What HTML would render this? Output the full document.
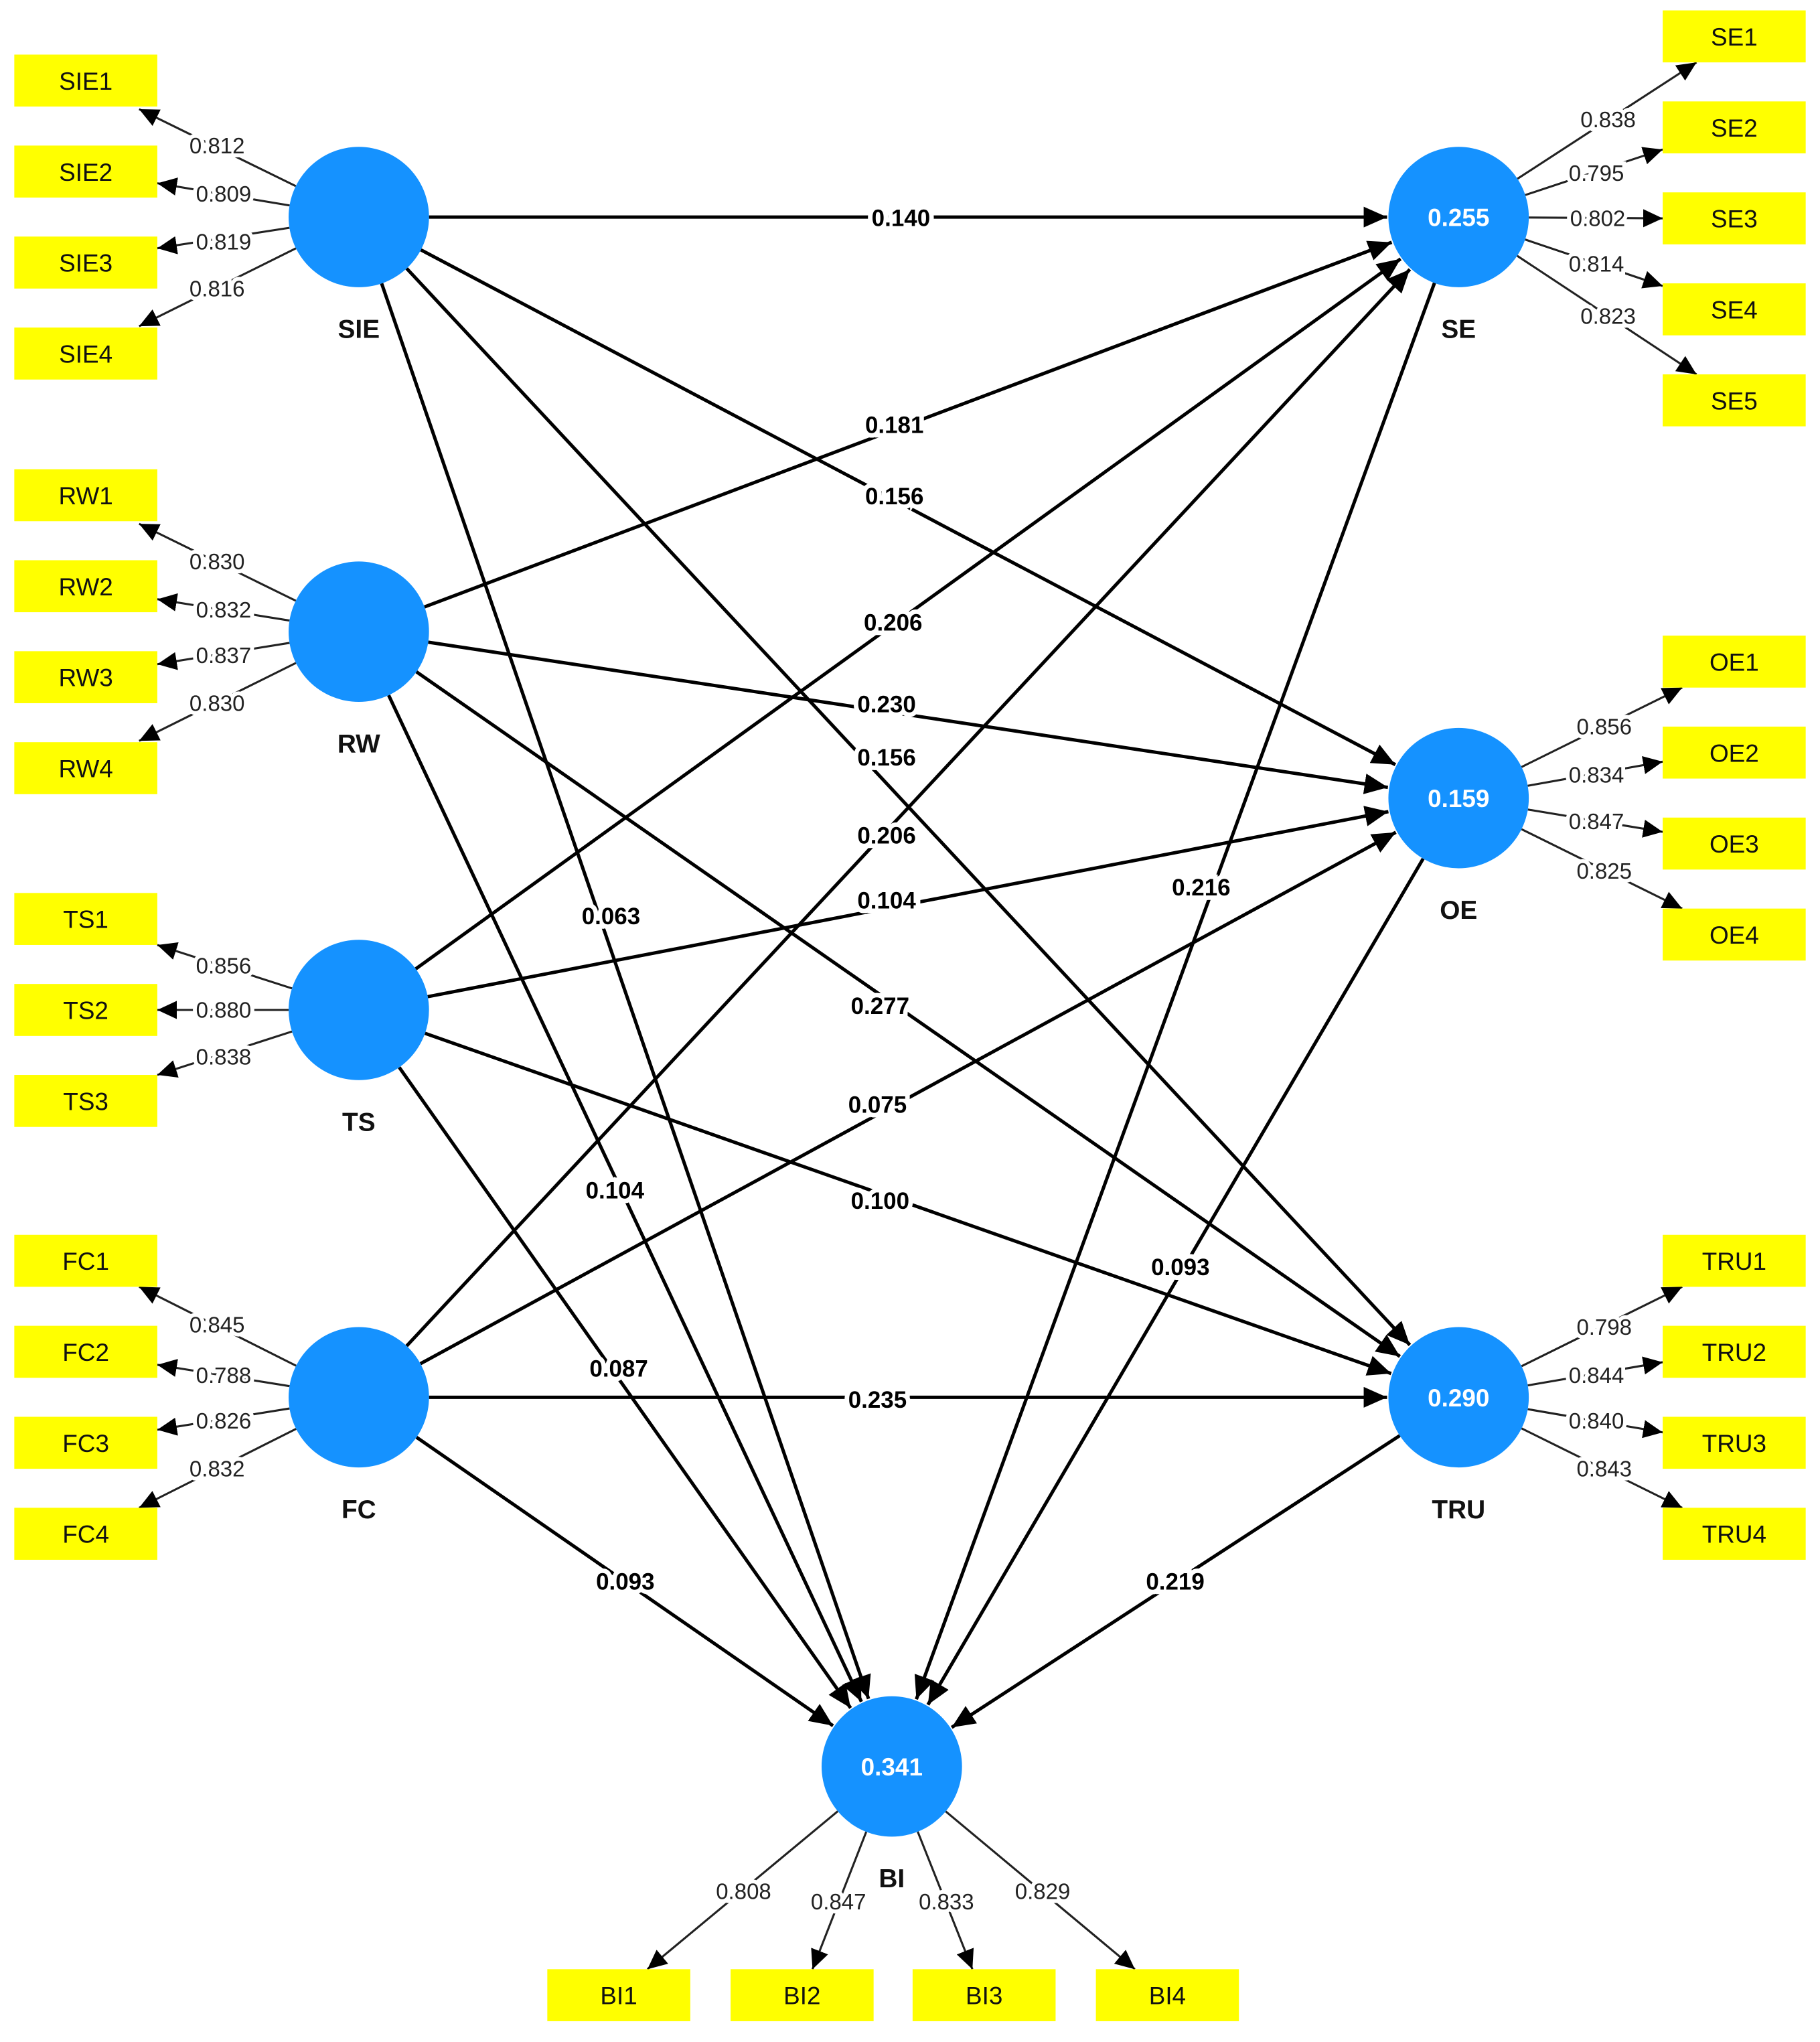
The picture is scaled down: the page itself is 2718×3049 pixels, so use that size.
<!DOCTYPE html>
<html><head><meta charset="utf-8">
<style>
html,body{margin:0;padding:0;background:#fff;}
svg{display:block;}
text{font-family:"Liberation Sans","DejaVu Sans",sans-serif;}
</style></head>
<body>
<svg id="s" width="2718" height="3049" viewBox="0 0 1400 1571" preserveAspectRatio="none" xmlns="http://www.w3.org/2000/svg">
<defs>
<marker id="a" markerUnits="userSpaceOnUse" markerWidth="20" markerHeight="16" refX="18" refY="8" orient="auto"><path d="M0,0 L18,8 L0,16 z" fill="#000"/></marker>
<marker id="b" markerUnits="userSpaceOnUse" markerWidth="16" markerHeight="14" refX="15" refY="7" orient="auto"><path d="M0,0 L15,7 L0,14 z" fill="#000"/></marker>
</defs>
<g id="lines"></g><g id="nodes"></g><g id="labels"></g>
</svg>
<script>
var NS="http://www.w3.org/2000/svg";
function el(p,t,a,txt){var e=document.createElementNS(NS,t);for(var k in a)e.setAttribute(k,a[k]);if(txt!==undefined)e.textContent=txt;document.getElementById(p).appendChild(e);return e;}
var R=54;
var C={SIE:[276,167],RW:[276,486],TS:[276,777],FC:[276,1075],SE:[1122,167],OE:[1122,614],TRU:[1122,1075],BI:[686,1359]};
var V={SE:"0.255",OE:"0.159",TRU:"0.290",BI:"0.341"};
var inner=[["SIE","SE","0.140",693,168],["RW","SE","0.181",688,327],["TS","SE","0.206",687,479],["FC","SE","0.206",682,643],["SE","BI","0.216",924,683],
["SIE","OE","0.156",688,382],["RW","OE","0.230",682,542],["TS","OE","0.104",682,693],["FC","OE","0.075",675,850],["OE","BI","0.093",908,975],
["SIE","TRU","0.156",682,583],["RW","TRU","0.277",677,774],["TS","TRU","0.100",677,924],["FC","TRU","0.235",675,1077],["TRU","BI","0.219",904,1217],
["SIE","BI","0.063",470,705],["RW","BI","0.104",473,916],["TS","BI","0.087",476,1053],["FC","BI","0.093",481,1217]];
inner.forEach(function(d){var a=C[d[0]],b=C[d[1]];var dx=b[0]-a[0],dy=b[1]-a[1],L=Math.hypot(dx,dy);var ux=dx/L,uy=dy/L;
el("lines","line",{x1:a[0]+ux*R,y1:a[1]+uy*R,x2:b[0]-ux*(R+1),y2:b[1]-uy*(R+1),stroke:"#000","stroke-width":2.6,"marker-end":"url(#a)"});
el("labels","text",{x:d[3],y:d[4]+6,"text-anchor":"middle","font-size":18,"font-weight":"bold",fill:"#000",stroke:"#fff","stroke-width":7,"paint-order":"stroke"},d[2]);});
// outer: [latent, boxname, box x,y, tip x,y, label, lx,ly]
var outer=[];
function grp(lat,names,boxes,tips,vals,labs,bx){names.forEach(function(n,i){outer.push([lat,n,bx,boxes[i],tips[i][0],tips[i][1],vals[i],labs[i][0],labs[i][1]]);});}
grp("SIE",["SIE1","SIE2","SIE3","SIE4"],[42,112,182,252],[[107,84],[121,141],[121,191],[107,251]],["0.812","0.809","0.819","0.816"],[[167,112],[172,149],[172,186],[167,222]],11);
grp("RW",["RW1","RW2","RW3","RW4"],[361,431,501,571],[[107,403],[121,461],[121,511],[107,570]],["0.830","0.832","0.837","0.830"],[[167,432],[172,469],[172,504],[167,541]],11);
grp("TS",["TS1","TS2","TS3"],[687,757,827],[[121,727],[121,777],[121,827]],["0.856","0.880","0.838"],[[172,743],[172,777],[172,813]],11);
grp("FC",["FC1","FC2","FC3","FC4"],[950,1020,1090,1160],[[107,990],[121,1050],[121,1100],[107,1160]],["0.845","0.788","0.826","0.832"],[[167,1019],[172,1058],[172,1093],[167,1130]],11);
grp("SE",["SE1","SE2","SE3","SE4","SE5"],[8,78,148,218,288],[[1305,48],[1279,115],[1279,168],[1279,220],[1305,288]],["0.838","0.795","0.802","0.814","0.823"],[[1237,92],[1228,133],[1229,168],[1228,203],[1237,243]],1279);
grp("OE",["OE1","OE2","OE3","OE4"],[489,559,629,699],[[1294,529],[1279,586],[1279,640],[1294,699]],["0.856","0.834","0.847","0.825"],[[1234,559],[1228,596],[1228,632],[1234,670]],1279);
grp("TRU",["TRU1","TRU2","TRU3","TRU4"],[950,1020,1090,1160],[[1294,990],[1279,1048],[1279,1102],[1294,1160]],["0.798","0.844","0.840","0.843"],[[1234,1021],[1228,1058],[1228,1093],[1234,1130]],1279);
outer.forEach(function(d){var c=C[d[0]];var dx=d[4]-c[0],dy=d[5]-c[1],L=Math.hypot(dx,dy);
el("lines","line",{x1:c[0]+dx/L*R,y1:c[1]+dy/L*R,x2:d[4],y2:d[5],stroke:"#222","stroke-width":1.6,"marker-end":"url(#b)"});
el("nodes","rect",{x:d[2],y:d[3],width:110,height:40,fill:"#ffff00"});
el("nodes","text",{x:d[2]+55,y:d[3]+27,"text-anchor":"middle","font-size":19,fill:"#111"},d[1]);
el("labels","text",{x:d[7],y:d[8]+6,"text-anchor":"middle","font-size":17,fill:"#222",stroke:"#fff","stroke-width":6,"paint-order":"stroke"},d[6]);});
var bi=[["BI1",421,498,"0.808",572,1455],["BI2",562,625,"0.847",645,1463],["BI3",702,748,"0.833",728,1463],["BI4",843,873,"0.829",802,1455]];
bi.forEach(function(d){var c=C.BI;var dx=d[2]-c[0],dy=1515-c[1],L=Math.hypot(dx,dy);
el("lines","line",{x1:c[0]+dx/L*R,y1:c[1]+dy/L*R,x2:d[2],y2:1515,stroke:"#222","stroke-width":1.6,"marker-end":"url(#b)"});
el("nodes","rect",{x:d[1],y:1515,width:110,height:40,fill:"#ffff00"});
el("nodes","text",{x:d[1]+55,y:1542,"text-anchor":"middle","font-size":19,fill:"#111"},d[0]);
el("labels","text",{x:d[4],y:d[5]+6,"text-anchor":"middle","font-size":17,fill:"#222",stroke:"#fff","stroke-width":6,"paint-order":"stroke"},d[3]);});
for(var k in C){var c=C[k];el("nodes","circle",{cx:c[0],cy:c[1],r:R,fill:"#1592ff"});
if(V[k])el("nodes","text",{x:c[0],y:c[1]+7,"text-anchor":"middle","font-size":19,"font-weight":"bold",fill:"#fff"},V[k]);
el("nodes","text",{x:c[0],y:c[1]+93,"text-anchor":"middle","font-size":20,"font-weight":"bold",fill:"#111"},k);}
</script>
</body></html>
